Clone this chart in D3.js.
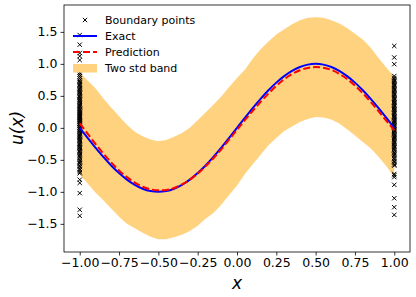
<!DOCTYPE html>
<html>
<head>
<meta charset="utf-8">
<script src="https://cdn.jsdelivr.net/npm/d3@7"></script>
<style>
  body { margin: 0; background: #fff; }
  text { font-family: "DejaVu Sans", sans-serif; }
</style>
</head>
<body>
<div id="graph"></div>
<script>
// grid of x values (step 0.05)
const xs = d3.range(41).map(i => -1 + i * 0.05);

const exact = [0, -0.156, -0.309, -0.454, -0.588, -0.707, -0.809, -0.891, -0.951, -0.988, -1,
  -0.988, -0.951, -0.891, -0.809, -0.707, -0.588, -0.454, -0.309, -0.156, 0,
  0.156, 0.309, 0.454, 0.588, 0.707, 0.809, 0.891, 0.951, 0.988, 1,
  0.988, 0.951, 0.891, 0.809, 0.707, 0.588, 0.454, 0.309, 0.156, 0];

const prediction = [0.07, -0.09, -0.25, -0.40, -0.54, -0.665, -0.77, -0.855, -0.92, -0.96, -0.975,
  -0.97, -0.94, -0.885, -0.81, -0.715, -0.60, -0.475, -0.335, -0.185, -0.03,
  0.12, 0.265, 0.405, 0.535, 0.655, 0.76, 0.84, 0.90, 0.935, 0.95,
  0.94, 0.905, 0.845, 0.765, 0.66, 0.54, 0.405, 0.26, 0.11, -0.04];

const upper = [0.86, 0.74, 0.62, 0.46, 0.32, 0.18, 0.05, -0.06, -0.13, -0.18, -0.21,
  -0.19, -0.14, -0.08, 0.0, 0.12, 0.24, 0.36, 0.49, 0.64, 0.78,
  0.91, 1.08, 1.23, 1.35, 1.46, 1.54, 1.62, 1.68, 1.72, 1.73,
  1.72, 1.68, 1.63, 1.56, 1.47, 1.38, 1.25, 1.09, 0.94, 0.80];

const lower = [-0.73, -0.87, -1.01, -1.13, -1.26, -1.39, -1.50, -1.57, -1.64, -1.70, -1.74,
  -1.74, -1.71, -1.67, -1.61, -1.53, -1.42, -1.33, -1.20, -1.05, -0.90,
  -0.72, -0.57, -0.42, -0.27, -0.16, -0.05, 0.02, 0.09, 0.14, 0.17,
  0.16, 0.13, 0.07, -0.02, -0.12, -0.22, -0.32, -0.45, -0.60, -0.77];

// boundary samples at x = -1 and x = 1
const leftBoundary = [1.45, 1.30, 1.17, 1.12, 1.06, 0.86, 0.83, 0.80, 0.77, 0.74, 0.72, 0.70,
  0.68, 0.66, 0.64, 0.62, 0.60, 0.58, 0.56, 0.55, 0.53, 0.51, 0.49, 0.47, 0.45, 0.44, 0.42,
  0.41, 0.39, 0.37, 0.35, 0.34, 0.32, 0.30, 0.28, 0.27, 0.25, 0.24, 0.22, 0.21, 0.19, 0.18,
  0.16, 0.15, 0.13, 0.12, 0.10, 0.09, 0.07, 0.06, 0.04, 0.03, 0.01, 0.00, -0.02, -0.03, -0.05,
  -0.06, -0.08, -0.10, -0.12, -0.13, -0.15, -0.17, -0.19, -0.20, -0.22, -0.24, -0.26, -0.28,
  -0.30, -0.31, -0.33, -0.35, -0.37, -0.39, -0.41, -0.43, -0.45, -0.47, -0.50, -0.52, -0.54,
  -0.56, -0.59, -0.61, -0.64, -0.66, -0.69, -0.71, -0.81, -0.86, -1.02, -1.28, -1.375];
const rightBoundary = [1.28, 1.10, 0.995, 0.81, 0.78, 0.76, 0.74, 0.72, 0.70, 0.68, 0.66, 0.64,
  0.62, 0.60, 0.58, 0.56, 0.54, 0.52, 0.50, 0.48, 0.46, 0.44, 0.42, 0.40, 0.39, 0.37, 0.35,
  0.33, 0.31, 0.29, 0.28, 0.26, 0.24, 0.22, 0.20, 0.18, 0.17, 0.15, 0.13, 0.11, 0.10, 0.08,
  0.06, 0.04, 0.03, 0.01, -0.01, -0.03, -0.04, -0.06, -0.08, -0.10, -0.12, -0.14, -0.15, -0.17,
  -0.19, -0.21, -0.23, -0.25, -0.27, -0.29, -0.31, -0.33, -0.35, -0.38, -0.40, -0.42, -0.44,
  -0.47, -0.49, -0.52, -0.54, -0.57, -0.59, -0.72, -0.74, -0.77, -0.89, -1.10, -1.24, -1.36];

const xTicks = [-1, -0.75, -0.5, -0.25, 0, 0.25, 0.5, 0.75, 1];
const yTicks = [-1.5, -1, -0.5, 0, 0.5, 1, 1.5];
const legendLabels = ["Boundary points", "Exact", "Prediction", "Two std band"];

const W = 416, H = 297;
const margin = {top: 5, right: 6, bottom: 45, left: 64};

const svg = d3.select("#graph").append("svg")
  .attr("width", W).attr("height", H);

const x = d3.scaleLinear().domain([-1.1, 1.1]).range([margin.left, W - margin.right]);
const y = d3.scaleLinear().domain([-1.94, 1.92]).range([H - margin.bottom, margin.top]);

const fmtMinus = s => s.replace("-", "\u2212");

// band
const band = xs.map((v, i) => ({x: v, lo: lower[i], hi: upper[i]}));
svg.append("path")
  .datum(band)
  .attr("fill", "#ffd27f")
  .attr("d", d3.area().x(d => x(d.x)).y0(d => y(d.lo)).y1(d => y(d.hi)));

// boundary points as small x markers
const pts = leftBoundary.map(v => ({x: -1, y: v}))
  .concat(rightBoundary.map(v => ({x: 1, y: v})));
const cross = d3.symbol().type(d3.symbolX).size(14);
svg.append("g").selectAll("path")
  .data(pts)
  .join("path")
  .attr("transform", d => `translate(${x(d.x)},${y(d.y)})`)
  .attr("d", cross)
  .attr("stroke", "#000")
  .attr("stroke-width", 1)
  .attr("fill", "none");

// lines
const line = d3.line().x(d => x(d[0])).y(d => y(d[1]));
svg.append("path")
  .datum(xs.map((v, i) => [v, exact[i]]))
  .attr("fill", "none").attr("stroke", "#0000ff").attr("stroke-width", 2)
  .attr("d", line.curve(d3.curveMonotoneX));
svg.append("path")
  .datum(xs.map((v, i) => [v, prediction[i]]))
  .attr("fill", "none").attr("stroke", "#ff0000").attr("stroke-width", 2)
  .attr("stroke-dasharray", "7,3")
  .attr("d", line.curve(d3.curveMonotoneX));

// axes
const xAxis = svg.append("g")
  .attr("transform", `translate(0,${H - margin.bottom})`)
  .call(d3.axisBottom(x).tickValues(xTicks).tickSize(3.5).tickPadding(3)
    .tickFormat(d => fmtMinus(d3.format(".2f")(d))));
const yAxis = svg.append("g")
  .attr("transform", `translate(${margin.left},0)`)
  .call(d3.axisLeft(y).tickValues(yTicks).tickSize(3.5).tickPadding(3)
    .tickFormat(d => fmtMinus(d3.format(".1f")(d))));
[xAxis, yAxis].forEach(a => {
  a.select(".domain").remove();
  a.selectAll("text").attr("font-size", 12.5).attr("fill", "#000")
    .attr("font-family", "DejaVu Sans");
  a.selectAll("line").attr("stroke", "#000").attr("stroke-width", 0.8);
});

// frame
svg.append("rect")
  .attr("x", margin.left).attr("y", margin.top)
  .attr("width", W - margin.right - margin.left)
  .attr("height", H - margin.bottom - margin.top)
  .attr("fill", "none").attr("stroke", "#000").attr("stroke-width", 0.8);

// axis labels
svg.append("text")
  .attr("x", x(0)).attr("y", 289)
  .attr("text-anchor", "middle").attr("font-size", 17).attr("font-style", "italic")
  .text("x");
svg.append("text")
  .attr("transform", `translate(23,${y(0)}) rotate(-90)`)
  .attr("text-anchor", "middle").attr("font-size", 17).attr("font-style", "italic")
  .text("u(x)");

// legend
const lg = svg.append("g").attr("transform", "translate(73,20)");
const rowH = 16;
legendLabels.forEach((lab, i) => {
  const g = lg.append("g").attr("transform", `translate(0,${i * rowH})`);
  if (i === 0) {
    g.append("path").attr("transform", "translate(12,0)").attr("d", cross)
      .attr("stroke", "#000").attr("stroke-width", 1).attr("fill", "none");
  } else if (i === 1) {
    g.append("line").attr("x1", 0).attr("x2", 24).attr("y1", 0).attr("y2", 0)
      .attr("stroke", "#0000ff").attr("stroke-width", 2);
  } else if (i === 2) {
    g.append("line").attr("x1", 0).attr("x2", 24).attr("y1", 0).attr("y2", 0)
      .attr("stroke", "#ff0000").attr("stroke-width", 2).attr("stroke-dasharray", "7,3");
  } else {
    g.append("rect").attr("x", 0).attr("y", -4).attr("width", 24).attr("height", 8.5)
      .attr("fill", "#ffd27f");
  }
  g.append("text").attr("x", 32).attr("y", 0).attr("dy", "0.35em")
    .attr("font-size", 11).text(lab);
});
</script>
</body>
</html>
